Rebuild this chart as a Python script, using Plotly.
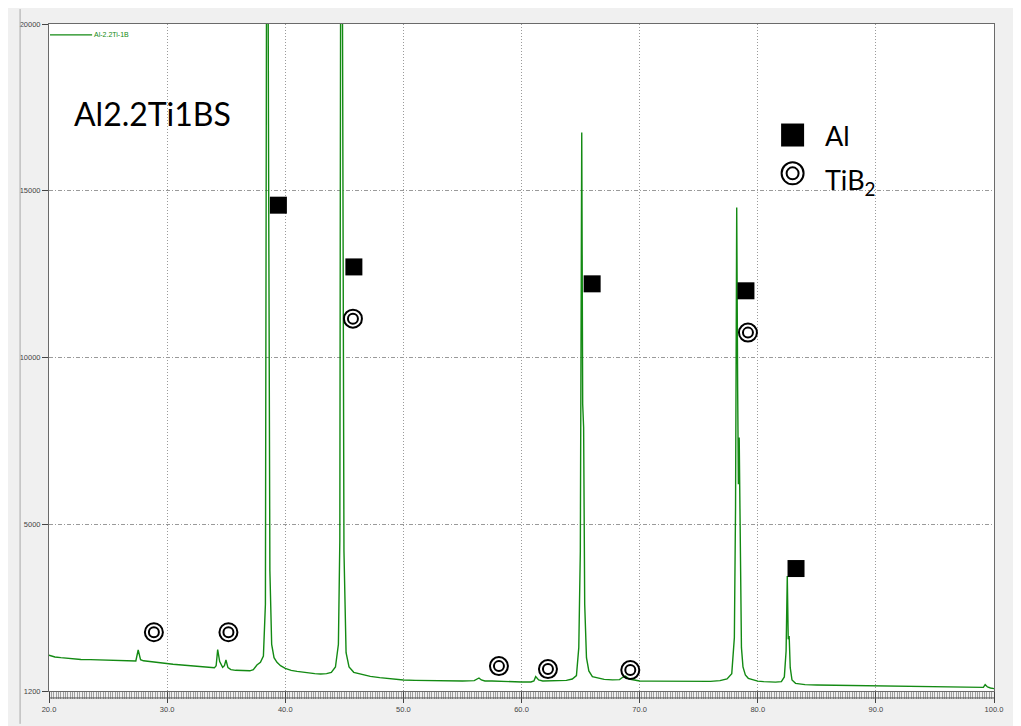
import plotly.graph_objects as go

# ---- data ----
two_theta = [20.0, 20.5, 21.0, 21.6, 22.0, 22.7, 23.5, 24.2, 25.0, 25.8, 26.5, 27.0, 27.35, 27.55, 27.75,
             28.0, 28.5, 29.0, 29.5, 30.0, 30.5, 31.0, 31.5, 32.0, 32.5, 33.0, 33.5, 34.0, 34.15, 34.28,
             34.45, 34.7, 34.85, 34.98, 35.15, 35.4, 35.8, 36.5, 37.0, 37.3, 37.6, 37.9, 38.15, 38.32,
             38.47, 38.58, 38.7, 38.85, 39.05, 39.3, 39.6, 40.0, 40.5, 41.0, 41.5, 42.0, 42.5, 43.0, 43.5,
             43.9, 44.25, 44.5, 44.62, 44.74, 44.85, 44.97, 45.15, 45.4, 45.8, 46.5, 47.2, 48.0, 49.0, 50.0,
             51.0, 52.0, 53.0, 54.0, 55.0, 56.0, 56.4, 56.6, 56.9, 57.5, 58.0, 59.0, 60.0, 60.8, 61.05,
             61.2, 61.45, 61.8, 62.5, 63.2, 63.8, 64.3, 64.65, 64.85, 64.98, 65.1, 65.18, 65.26, 65.35,
             65.5, 65.7, 66.0, 66.5, 67.0, 67.7, 68.3, 68.6, 68.8, 69.1, 69.6, 70.0, 71.0, 72.0, 73.0,
             74.0, 75.0, 76.0, 76.8, 77.4, 77.8, 78.02, 78.12, 78.22, 78.3, 78.36, 78.43, 78.52, 78.62,
             78.75, 78.95, 79.2, 79.6, 80.0, 80.5, 81.0, 81.5, 82.0, 82.25, 82.4, 82.5, 82.58, 82.66,
             82.75, 82.9, 83.2, 83.6, 84.0, 85.0, 86.0, 87.0, 88.0, 89.0, 90.0, 91.0, 92.0, 93.0, 94.0,
             95.0, 96.0, 97.0, 98.0, 98.8, 99.1, 99.25, 99.45, 99.7, 100.0]
intensity = [1075, 1020, 1000, 975, 960, 945, 940, 935, 925, 930, 915, 905, 900, 1230, 940,
             905, 880, 860, 840, 815, 800, 785, 770, 760, 750, 735, 720, 695, 760, 1240,
             880, 710, 760, 930, 700, 640, 620, 600, 605, 640, 780, 860, 1050, 2600,
             32000, 17000, 3600, 1400, 1000, 860, 760, 680, 620, 590, 560, 540, 520, 510, 520,
             560, 720, 1400, 4500, 34000, 20000, 4200, 1150, 720, 560, 490, 440, 400, 360, 330,
             320, 310, 305, 300, 300, 310, 390, 330, 300, 300, 290, 285, 270, 270, 300,
             430, 330, 300, 300, 310, 320, 360, 460, 1300, 4200, 16750, 8600, 7900, 2600,
             1000, 600, 430, 380, 350, 335, 340, 420, 450, 360, 330, 300, 295, 290, 285,
             280, 280, 290, 310, 360, 520, 1600, 5500, 14500, 9000, 6200, 7600, 3600, 1300,
             720, 480, 380, 330, 295, 280, 270, 265, 280, 420, 1200, 3450, 1550, 1650,
             700, 330, 230, 200, 190, 180, 175, 165, 160, 155, 150, 150, 145, 140, 135,
             125, 120, 115, 105, 100, 110, 190, 120, 90, 70]

al_x = [39.42, 45.81, 65.98, 79.0, 83.24]
al_y = [14567, 12716, 12209, 12000, 3672]
tib2_x = [28.88, 35.19, 45.73, 58.09, 62.24, 69.21, 79.17]
tib2_y = [1761, 1761, 11164, 746, 657, 627, 10746]
peak_marks_x = [38.6, 44.65, 65.2, 78.9, 82.4]

legend_x = 82.95
legend_al_y = 16671
legend_tib2_y = 15522
legend_text_x = 85.56

y_tickvals = [0, 5000, 10000, 15000, 20000]
y_ticktext = ["1200", "5000", "10000", "15000", "20000"]
x_tickvals = [20, 30, 40, 50, 60, 70, 80, 90, 100]
x_ticktext = ["20.0", "30.0", "40.0", "50.0", "60.0", "70.0", "80.0", "90.0", "100.0"]

# figure sits at page offset (8, 8) because of the body margin
W, H = 1007, 718
L, R, T, B = 30, 13, 15, 33
PW, PH = W - L - R, H - T - B          # 964 x 670
PAGE_LEFT, PAGE_BOTTOM = 38, 693       # plot area corners in page pixels


def px_x(px):
    return (px - PAGE_LEFT) / PW


def px_y(py):
    return (PAGE_BOTTOM - py) / PH


green = "#138a13"

fig = go.Figure()
fig.add_trace(go.Scatter(x=two_theta, y=intensity, mode="lines",
                         line=dict(color=green, width=1.4), hoverinfo="skip"))

# Al markers
fig.add_trace(go.Scatter(x=al_x, y=al_y, mode="markers",
                         marker=dict(symbol="square", size=17, color="black",
                                     line=dict(width=0))))
# TiB2 double circles
fig.add_trace(go.Scatter(x=tib2_x, y=tib2_y, mode="markers",
                         marker=dict(symbol="circle-open", size=18, color="black",
                                     line=dict(width=2, color="black"))))
fig.add_trace(go.Scatter(x=tib2_x, y=tib2_y, mode="markers",
                         marker=dict(symbol="circle-open", size=10, color="black",
                                     line=dict(width=2, color="black"))))
# symbol key
fig.add_trace(go.Scatter(x=[legend_x], y=[legend_al_y], mode="markers",
                         marker=dict(symbol="square", size=23, color="black")))
fig.add_trace(go.Scatter(x=[legend_x], y=[legend_tib2_y], mode="markers",
                         marker=dict(symbol="circle-open", size=22, color="black",
                                     line=dict(width=2, color="black"))))
fig.add_trace(go.Scatter(x=[legend_x], y=[legend_tib2_y], mode="markers",
                         marker=dict(symbol="circle-open", size=12, color="black",
                                     line=dict(width=2, color="black"))))
# peak marks in the strip
fig.add_trace(go.Scatter(x=peak_marks_x, y=[-130] * len(peak_marks_x), mode="markers",
                         cliponaxis=False,
                         marker=dict(symbol="triangle-ne", size=5, color="#8a55ee")))

shapes = [
    dict(type="line", xref="paper", yref="paper", x0=px_x(8.5), x1=px_x(8.5),
         y0=px_y(726), y1=px_y(8), line=dict(color="#a8a8a8", width=1)),
    dict(type="line", xref="paper", yref="paper", x0=0, x1=1, y0=px_y(700), y1=px_y(700),
         line=dict(color="#555555", width=1)),
    dict(type="line", xref="paper", yref="paper", x0=px_x(39), x1=px_x(82), y0=px_y(34),
         y1=px_y(34), line=dict(color=green, width=1.2)),
]

annotations = [
    dict(xref="paper", yref="paper", x=px_x(82), y=px_y(34), text="Al-2.2Ti-1B",
         showarrow=False, xanchor="left", yanchor="middle",
         font=dict(family="Liberation Sans", size=7, color=green)),
    dict(xref="paper", yref="paper", x=px_x(61), y=px_y(113), text="Al2.2Ti1BS",
         showarrow=False, xanchor="left", yanchor="middle",
         font=dict(family="Lato", size=32, color="black")),
    dict(x=legend_text_x, y=legend_al_y, text="Al", showarrow=False,
         xanchor="left", yanchor="middle",
         font=dict(family="Lato", size=27, color="black")),
    dict(x=legend_text_x, y=legend_tib2_y - 250, text="TiB<sub>2</sub>", showarrow=False,
         xanchor="left", yanchor="middle",
         font=dict(family="Lato", size=27, color="black")),
]

tickfont = dict(family="Liberation Sans", size=7.5, color="#444444")

fig.update_layout(
    width=W, height=H,
    margin=dict(l=L, r=R, t=T, b=B, pad=0),
    paper_bgcolor="#f0f0f0", plot_bgcolor="white",
    showlegend=False,
    shapes=shapes, annotations=annotations,
    xaxis=dict(range=[20, 100], tickvals=x_tickvals, ticktext=x_ticktext,
               ticks="outside", ticklen=11, tickcolor="#444444", tickwidth=1,
               showline=True, mirror=True, linecolor="#6a6a6a", linewidth=1,
               showgrid=True, gridcolor="#9a9a9a", griddash="1px,2px", gridwidth=1,
               zeroline=False, tickfont=tickfont,
               minor=dict(ticks="outside", ticklen=7, dtick=0.2,
                          tickcolor="#a0a0a0", tickwidth=1, showgrid=False)),
    yaxis=dict(range=[0, 20000], tickvals=y_tickvals, ticktext=y_ticktext,
               ticks="outside", ticklen=6, tickcolor="#444444", tickwidth=1,
               showline=True, mirror=True, linecolor="#6a6a6a", linewidth=1,
               showgrid=True, gridcolor="#9a9a9a", griddash="4px,2px,1px,2px", gridwidth=1,
               zeroline=False, tickfont=tickfont),
)

fig.write_html("out.html")
